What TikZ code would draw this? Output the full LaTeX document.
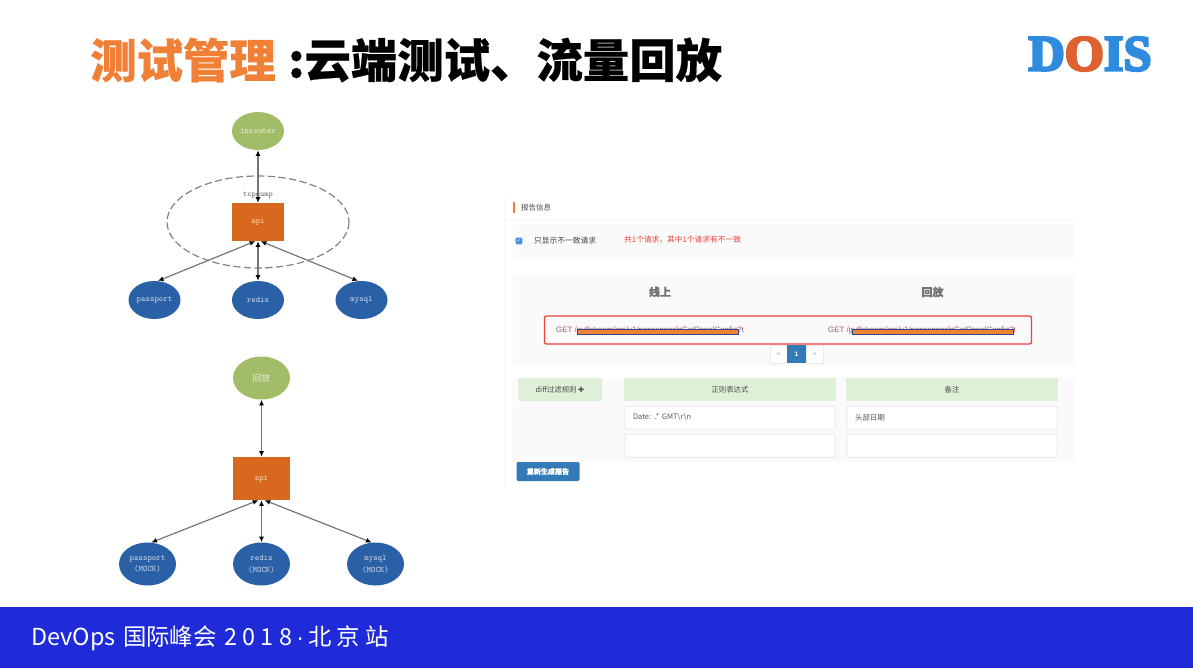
\documentclass[tikz,border=0pt]{standalone}
\usepackage{fontspec}
\usetikzlibrary{shapes.geometric,arrows.meta}
\setmainfont{Liberation Sans}
\newfontfamily\cjk[BoldFeatures={FakeBold=0.5}]{Noto Sans CJK SC}
\newfontfamily\symb{DejaVu Sans}
\newfontfamily\logofont[BoldFeatures={FakeBold=5}]{Liberation Serif}
\newcommand{\fs}[1]{\fontsize{#1}{10pt}\selectfont}
\definecolor{titleorange}{HTML}{F08035}
\definecolor{footblue}{HTML}{1F2BD8}
\definecolor{logoblue}{HTML}{2E8BDE}
\definecolor{logored}{HTML}{DE6130}
\definecolor{leafgreen}{HTML}{A2BD67}
\definecolor{apiorange}{HTML}{D9681F}
\definecolor{dbblue}{HTML}{2A60A6}
\definecolor{panelgrey}{HTML}{FAFAFA}
\definecolor{headgreen}{HTML}{DFF0D8}
\definecolor{btnblue}{HTML}{337AB7}
\definecolor{checkblue}{HTML}{4A90E2}
\definecolor{boxred}{HTML}{F0403A}
\definecolor{getmauve}{HTML}{A8506E}
\definecolor{redactblue}{HTML}{2B4C8C}
\tikzset{
    oval/.style={ellipse, inner sep=0pt, draw=none, font=\ttfamily\fs{7.2pt}, align=center},
    svc/.style={rectangle, inner sep=0pt, fill=apiorange, text=orange!30, font=\ttfamily\fs{7.2pt}},
    link/.style={line width=0.35mm, black!55, {Latex[length=1.7mm,width=1.5mm,black]}-{Latex[length=1.7mm,width=1.5mm,black]}},
    head/.style={rectangle, inner sep=0pt, fill=headgreen, minimum height=0.69cm, text=black!70, font=\cjk\fs{6.3pt}},
    field/.style={rectangle, rounded corners=0.4mm, inner sep=0pt, fill=white, draw=black!15, line width=0.15mm, minimum width=6.3cm, minimum height=0.69cm, text width=5.82cm, align=left, text=black!65, font=\cjk\fs{6.4pt}},
    redact/.style={fill=titleorange, draw=redactblue, line width=0.25mm}
}
\begin{document}
\begin{tikzpicture}[x=0.03cm, y=-0.03cm]
    \useasboundingbox (0,0) rectangle (1193,668);
    \fill[white] (0,0) rectangle (1193,668);
    % heading and logo
    \node[anchor=west, inner sep=0pt, text=titleorange, font=\cjk\bfseries\fs{39.6pt}] (titleA) at (90,60){测试管理};
    \node[anchor=west, inner sep=0pt, font=\cjk\bfseries\fs{39.6pt}] (titleB) at (288,60){:云端测试、流量回放};
    \node[inner sep=0pt, text=logoblue, font=\logofont\bfseries\fs{43pt}] (logo) at (1090,54){D\textcolor{logored}{O}IS};
    % footer
    \fill[footblue] (0,606.5) rectangle (1193,668);
    \node[anchor=west, inner sep=0pt, text=white, font=\cjk\fs{20pt}] (foot) at (31,638){DevOps\hspace{2pt} 国际峰会\hspace{2pt} 2 0 1 8\hspace{3.5pt}{\rmfamily ·}\hspace{3.5pt}北 京 站};

    % upper graph
    \draw[line width=0.35mm, black!50, dash pattern=on 2.2mm off 1mm] (258,222) ellipse (91 and 46);
    \node[oval, fill=leafgreen, text=white!75!leafgreen, minimum width=1.56cm, minimum height=1.14cm] (inrouterA) at (258,131){inrouter};
    \node[svc, minimum width=1.56cm, minimum height=1.14cm] (apiA) at (258,222){api};
    \node[oval, fill=dbblue, text=white!75!dbblue, minimum width=1.56cm, minimum height=1.14cm] (passportA) at (154.5,300){passport};
    \node[oval, fill=dbblue, text=white!75!dbblue, minimum width=1.56cm, minimum height=1.14cm] (redisA) at (258,300){redis};
    \node[oval, fill=dbblue, text=white!75!dbblue, minimum width=1.56cm, minimum height=1.14cm] (mysqlA) at (361.5,300){mysql};
    \node[inner sep=0pt, text=black!60, font=\ttfamily\fs{6.8pt}] (tcpdump) at (258,194.5){tcpdump};
    \draw[link] (inrouterA.south) -- (apiA.north);
    \draw[link] (apiA.262) -- (passportA.80);
    \draw[link] (apiA.south) -- (redisA.north);
    \draw[link] (apiA.278) -- (mysqlA.100);

    % lower graph
    \node[oval, fill=leafgreen, text=white!75!leafgreen, minimum width=1.71cm, minimum height=1.29cm, font=\cjk\fs{7.5pt}] (replayB) at (261.5,378){回放};
    \node[svc, minimum width=1.71cm, minimum height=1.29cm] (apiB) at (261.5,478.5){api};
    \node[oval, fill=dbblue, text=white!75!dbblue, minimum width=1.71cm, minimum height=1.29cm] (passportB) at (147.5,564){passport\\(MOCK)};
    \node[oval, fill=dbblue, text=white!75!dbblue, minimum width=1.71cm, minimum height=1.29cm] (redisB) at (261.5,564){redis\\(MOCK)};
    \node[oval, fill=dbblue, text=white!75!dbblue, minimum width=1.71cm, minimum height=1.29cm] (mysqlB) at (375.5,564){mysql\\(MOCK)};
    \draw[link] (replayB.south) -- (apiB.north);
    \draw[link] (apiB.262) -- (passportB.80);
    \draw[link] (apiB.south) -- (redisB.north);
    \draw[link] (apiB.278) -- (mysqlB.100);

    % report panels
    \draw[line width=0.15mm, black!3] (504,195) -- (504,487);
    \fill[titleorange] (513,202) rectangle (515,213);
    \node[anchor=west, inner sep=0pt, text=black!70, font=\cjk\fs{6.4pt}] (report) at (521,208){报告信息};
    \draw[line width=0.15mm, black!4] (504,219) -- (1074,219);
    \fill[panelgrey] (513,224) rectangle (1074,258);
    \fill[panelgrey] (513,275) rectangle (1074,366);
    \fill[panelgrey] (512,378) rectangle (1074,462);
    \node[rectangle, rounded corners=0.3mm, inner sep=0pt, fill=checkblue, minimum width=0.2cm, minimum height=0.2cm, text=white, font=\symb\fs{4.5pt}] (check) at (519,241){✓};
    \node[anchor=west, inner sep=0pt, text=black!75, font=\cjk\fs{6.6pt}] (onlydiff) at (534,241){只显示不一致请求};
    \node[anchor=west, inner sep=0pt, text=boxred, font=\cjk\fs{6.6pt}] (count) at (624,240){共1个请求，其中1个请求有不一致};
    \node[inner sep=0pt, text=black!55, font=\cjk\bfseries\fs{9.4pt}] (online) at (660,292){线上};
    \node[inner sep=0pt, text=black!55, font=\cjk\bfseries\fs{9.4pt}] (replay) at (932.5,292){回放};

    % request row
    \draw[boxred, line width=0.4mm, rounded corners=0.6mm] (544.5,316) rectangle (1031.5,344);
    \node[anchor=west, inner sep=0pt, text=getmauve, font=\fs{6.7pt}] (getA) at (556,330){GET /gulfstream/api/v1/passenger/pGetPanelConfig?t};
    \node[anchor=west, inner sep=0pt, text=getmauve, font=\fs{6.7pt}] (getB) at (828,330){GET /gulfstream/api/v1/passenger/pGetPanelConfig?t};
    \draw[redact] (577,329.5) rectangle (738,334);
    \draw[redact] (852,329.5) rectangle (1013,334);

    % pager
    \node[rectangle, inner sep=0pt, fill=white, draw=black!8, line width=0.1mm, minimum width=0.51cm, minimum height=0.54cm, text=black!50, font=\fs{4.5pt}] (prev) at (778.5,354){«};
    \node[rectangle, inner sep=0pt, fill=white, draw=black!8, line width=0.1mm, minimum width=0.51cm, minimum height=0.54cm, text=black!50, font=\fs{4.5pt}] (next) at (814.5,354){»};
    \node[rectangle, inner sep=0pt, fill=btnblue, minimum width=0.57cm, minimum height=0.54cm, text=white, font=\bfseries\fs{5.5pt}] (page) at (796.5,354){1};

    % filter rules
    \node[head, rounded corners=0.4mm, minimum width=2.52cm] (diff) at (560,389.5){diff过滤规则 {\symb ✚}};
    \node[head, minimum width=6.36cm] (regex) at (730,389.5){正则表达式};
    \node[head, minimum width=6.36cm] (note) at (952,389.5){备注};
    \node[field] (regexA) at (730,417.5){Date: .* GMT\textbackslash r\textbackslash n};
    \node[field] (noteA) at (952,417.5){头部日期};
    \node[field] (regexB) at (730,445.5){};
    \node[field] (noteB) at (952,445.5){};
    \node[rectangle, rounded corners=0.4mm, inner sep=0pt, fill=btnblue, minimum width=1.89cm, minimum height=0.57cm, text=white, font=\cjk\bfseries\fs{6pt}] (rebuild) at (548,471.5){重新生成报告};
\end{tikzpicture}
\end{document}
